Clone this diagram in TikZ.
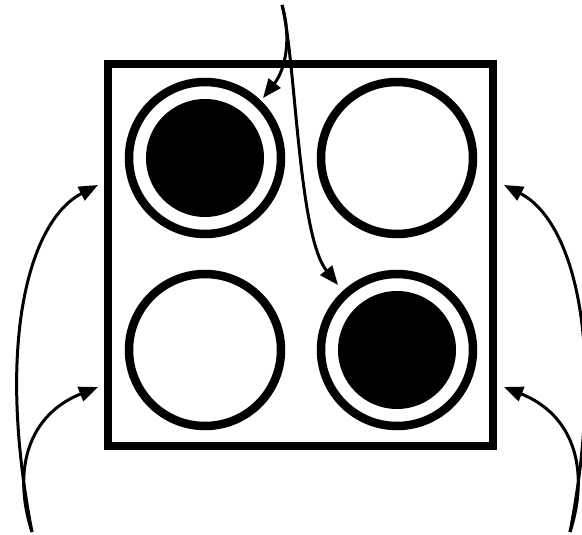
\documentclass[tikz,border=0pt]{standalone}
\usetikzlibrary{arrows.meta}
\begin{document}
\begin{tikzpicture}[x=1pt,y=-1pt,
  frame/.style={draw,line width=8pt,minimum width=385pt,minimum height=382pt,inner sep=0pt,outer sep=0pt},
  ring/.style={circle,draw,line width=8.5pt,minimum size=152pt,inner sep=0pt,outer sep=0pt},
  disk/.style={circle,fill=black,minimum size=118pt,inner sep=0pt,outer sep=0pt},
  arr/.style={line width=3pt,-{Triangle[length=19pt,width=15pt]}}]
\useasboundingbox (0,0) rectangle (582,535);
\node[frame] (sq) at (300.5,255) {};
\node[ring] (tl) at (205,158) {};
\node[disk] (tld) at (205,158) {};
\node[ring] (tr) at (397,158) {};
\node[ring] (bl) at (205,350) {};
\node[ring] (br) at (397,350) {};
\node[disk] (brd) at (397,350) {};
\coordinate (top) at (282,5);
\coordinate (tla) at (263,98);
\coordinate (bra) at (338,285);
\coordinate (ls) at (32,532);
\coordinate (lu) at (98,185);
\coordinate (ll) at (98,387);
\coordinate (rs) at (570,532);
\coordinate (ru) at (504,185);
\coordinate (rl) at (504,387);
\draw[arr] (top) .. controls (292,40) and (285,70) .. (tla);
\draw[arr] (top) .. controls (296,60) and (298,235) .. (bra);
\draw[arr] (ls) .. controls (-5,340) and (30,220) .. (lu);
\draw[arr] (ls) .. controls (12,470) and (28,415) .. (ll);
\draw[arr] (rs) .. controls (607,340) and (572,220) .. (ru);
\draw[arr] (rs) .. controls (590,470) and (574,415) .. (rl);
\end{tikzpicture}
\end{document}
